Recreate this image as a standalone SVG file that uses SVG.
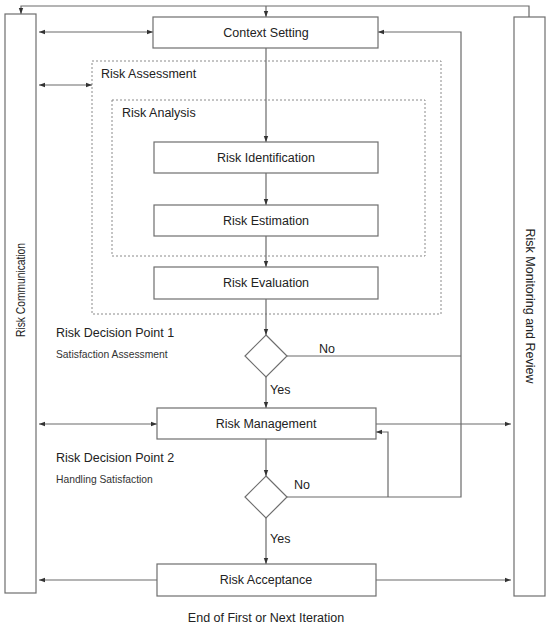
<svg xmlns="http://www.w3.org/2000/svg" width="550" height="630" viewBox="0 0 550 630">
<style>
.box{fill:#fff;stroke:#6e6e6e;stroke-width:1.2}
.bar{fill:#fff;stroke:#6e6e6e;stroke-width:1.2}
.dash{fill:none;stroke:#8a8a8a;stroke-width:1;stroke-dasharray:2,2}
.ln{fill:none;stroke:#6a6a6a;stroke-width:1.2}
.t{font-family:"Liberation Sans",Arial,sans-serif;font-size:12.5px;fill:#222}
.s{font-family:"Liberation Sans",Arial,sans-serif;font-size:10.3px;fill:#333}
.c{text-anchor:middle;dominant-baseline:central}
</style>
<defs>
<marker id="ah" viewBox="0 0 6 6" refX="6" refY="3" markerWidth="6" markerHeight="6" orient="auto-start-reverse" markerUnits="userSpaceOnUse">
<path d="M0,0.8 L6,3 L0,5.2 z" fill="#333"/>
</marker>
</defs>
<rect width="550" height="630" fill="#fff"/>

<g id="assessment">
<rect class="dash" x="92" y="61" width="349" height="253"/>
<text class="t" x="101" y="78">Risk Assessment</text>
</g>
<g id="analysis">
<rect class="dash" x="112" y="100" width="313" height="156"/>
<text class="t" x="122" y="117">Risk Analysis</text>
</g>

<g id="connectors">
<polyline class="ln" points="529,17 529,6 21,6 21,14" marker-end="url(#ah)"/>
<line class="ln" x1="266" y1="6" x2="266" y2="17" marker-end="url(#ah)"/>
<line class="ln" x1="39" y1="32" x2="153" y2="32" marker-start="url(#ah)" marker-end="url(#ah)"/>
<line class="ln" x1="39" y1="85" x2="92" y2="85" marker-start="url(#ah)" marker-end="url(#ah)"/>
<line class="ln" x1="266" y1="48" x2="266" y2="142" marker-end="url(#ah)"/>
<line class="ln" x1="266" y1="173" x2="266" y2="205" marker-end="url(#ah)"/>
<line class="ln" x1="266" y1="236" x2="266" y2="267" marker-end="url(#ah)"/>
<line class="ln" x1="266" y1="299" x2="266" y2="335" marker-end="url(#ah)"/>
<line class="ln" x1="266" y1="377" x2="266" y2="408" marker-end="url(#ah)"/>
<line class="ln" x1="266" y1="439" x2="266" y2="476" marker-end="url(#ah)"/>
<line class="ln" x1="266" y1="518" x2="266" y2="564" marker-end="url(#ah)"/>
<line class="ln" x1="287" y1="356" x2="461" y2="356"/>
<polyline class="ln" points="287,497 461,497 461,32 378,32" marker-end="url(#ah)"/>
<polyline class="ln" points="388,497 388,432 376,432" marker-end="url(#ah)"/>
<line class="ln" x1="39" y1="424" x2="157" y2="424" marker-start="url(#ah)" marker-end="url(#ah)"/>
<line class="ln" x1="376" y1="424" x2="511" y2="424" marker-end="url(#ah)"/>
<line class="ln" x1="157" y1="580" x2="39" y2="580" marker-end="url(#ah)"/>
<line class="ln" x1="376" y1="580" x2="511" y2="580" marker-end="url(#ah)"/>
</g>

<g id="communication">
<rect class="bar" x="5" y="14" width="31" height="579"/>
<text class="t c" transform="translate(21,290) rotate(-90)" textLength="94" lengthAdjust="spacingAndGlyphs">Risk Communication</text>
</g>
<g id="monitoring">
<rect class="bar" x="514" y="17" width="31" height="579"/>
<text class="t c" transform="translate(530,306) rotate(90)">Risk Monitoring and Review</text>
</g>

<g id="context">
<rect class="box" x="153" y="17" width="225" height="31"/>
<text class="t c" x="266" y="33">Context Setting</text>
</g>
<g id="identification">
<rect class="box" x="154" y="142" width="224" height="31"/>
<text class="t c" x="266" y="158">Risk Identification</text>
</g>
<g id="estimation">
<rect class="box" x="154" y="205" width="224" height="31"/>
<text class="t c" x="266" y="221">Risk Estimation</text>
</g>
<g id="evaluation">
<rect class="box" x="154" y="267" width="224" height="32"/>
<text class="t c" x="266" y="283">Risk Evaluation</text>
</g>
<g id="decision1">
<polygon class="box" points="266,335 287,356 266,377 245,356"/>
<text class="t" x="56" y="337">Risk Decision Point 1</text>
<text class="s" x="56" y="358">Satisfaction Assessment</text>
<text class="t" x="319" y="353">No</text>
<text class="t" x="270" y="394">Yes</text>
</g>
<g id="management">
<rect class="box" x="157" y="408" width="219" height="31"/>
<text class="t c" x="266" y="424">Risk Management</text>
</g>
<g id="decision2">
<polygon class="box" points="266,476 287,497 266,518 245,497"/>
<text class="t" x="56" y="462">Risk Decision Point 2</text>
<text class="s" x="56" y="483">Handling Satisfaction</text>
<text class="t" x="294" y="489">No</text>
<text class="t" x="270" y="543">Yes</text>
</g>
<g id="acceptance">
<rect class="box" x="157" y="564" width="219" height="32"/>
<text class="t c" x="266" y="580">Risk Acceptance</text>
</g>
<text class="t c" x="266" y="618">End of First or Next Iteration</text>
</svg>
